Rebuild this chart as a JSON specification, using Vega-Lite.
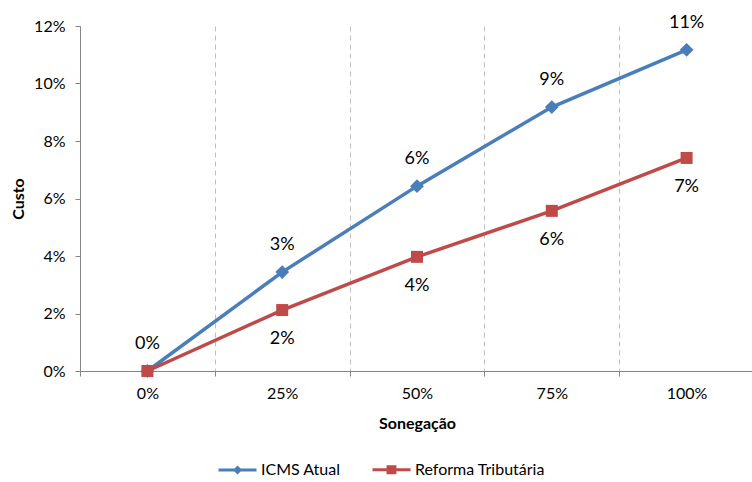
{
  "$schema": "https://vega.github.io/schema/vega-lite/v6.json",
  "autosize": "none",
  "width": 674,
  "height": 345,
  "padding": {"left": 80, "top": 26, "right": 0, "bottom": 111},
  "background": "white",
  "config": {
    "font": "Lato",
    "view": {"stroke": null},
    "axis": {"labelFont": "Lato", "titleFont": "Lato", "labelColor": "#000", "titleColor": "#000", "domainColor": "#868686", "tickColor": "#868686"}
  },
  "data": {
    "values": [
      {"s": "0%", "series": "ICMS Atual", "v": 0},
      {"s": "25%", "series": "ICMS Atual", "v": 0.0344},
      {"s": "50%", "series": "ICMS Atual", "v": 0.0643},
      {"s": "75%", "series": "ICMS Atual", "v": 0.0918},
      {"s": "100%", "series": "ICMS Atual", "v": 0.1117},
      {"s": "0%", "series": "Reforma Tributária", "v": 0},
      {"s": "25%", "series": "Reforma Tributária", "v": 0.0212},
      {"s": "50%", "series": "Reforma Tributária", "v": 0.0397},
      {"s": "75%", "series": "Reforma Tributária", "v": 0.0557},
      {"s": "100%", "series": "Reforma Tributária", "v": 0.0741}
    ]
  },
  "encoding": {
    "x": {
      "field": "s", "type": "nominal", "sort": ["0%", "25%", "50%", "75%", "100%"],
      "scale": {"paddingInner": 0, "paddingOuter": 0},
      "axis": {"title": "Sonegação", "titleFontWeight": "bold", "titleFontSize": 16, "titleY": 52, "titleBaseline": "middle",
        "labelAngle": 0, "labelFontSize": 16, "labelPadding": 9, "tickSize": 5, "tickBand": "extent",
        "grid": true, "gridDash": [5, 4], "gridColor": "#BFBFBF", "gridWidth": 1}
    },
    "y": {
      "field": "v", "type": "quantitative",
      "scale": {"domain": [0, 0.12], "nice": false},
      "axis": {"title": "Custo", "titleFontWeight": "bold", "titleFontSize": 16, "titleX": -62, "titleBaseline": "middle", "titleAngle": -90,
        "format": ".0%", "values": [0, 0.02, 0.04, 0.06, 0.08, 0.1, 0.12], "grid": false,
        "labelFontSize": 16, "labelPadding": 10, "tickSize": 5}
    },
    "color": {
      "field": "series", "type": "nominal",
      "scale": {"domain": ["ICMS Atual", "Reforma Tributária"], "range": ["#4A7EBB", "#BE4B48"]},
      "legend": {
        "title": null, "orient": "none", "direction": "horizontal", "legendX": 137, "legendY": 423,
        "padding": 0, "labelFontSize": 16, "labelFont": "Lato", "labelColor": "#000", "labelOffset": 3, "columnPadding": 25,
        "symbolSize": 1444, "symbolStrokeWidth": 3, "symbolType": "M-1,0H1",
        "encode": {
          "symbols": {
            "update": {
              "shape": {"signal": "datum.value === 'ICMS Atual' ? 'M-1,0H1M0,-0.13L0.13,0L0,0.13L-0.13,0Z' : 'M-1,0H1M-0.18,-0.16H0.18V0.16H-0.18Z'"},
              "fill": {"scale": "color", "field": "value"},
              "stroke": {"scale": "color", "field": "value"},
              "strokeWidth": {"value": 3},
              "opacity": {"value": 1}
            }
          }
        }
      }
    }
  },
  "layer": [
    {"mark": {"type": "line", "strokeWidth": 3.5}, "encoding": {"detail": {"field": "series"}}},
    {
      "transform": [{"filter": "datum.series === 'ICMS Atual'"}],
      "mark": {"type": "point", "filled": true, "opacity": 1, "shape": "diamond", "size": 190}
    },
    {
      "transform": [{"filter": "datum.series === 'Reforma Tributária'"}],
      "mark": {"type": "point", "filled": true, "opacity": 1, "shape": "square", "size": 144}
    },
    {
      "transform": [{"filter": "datum.series === 'ICMS Atual'"}],
      "mark": {"type": "text", "fontSize": 18, "dy": -27, "baseline": "middle", "color": "#000"},
      "encoding": {"text": {"field": "v", "format": ".0%"}, "color": {"value": "#000"}}
    },
    {
      "transform": [{"filter": "datum.series === 'Reforma Tributária' && datum.v > 0"}],
      "mark": {"type": "text", "fontSize": 18, "dy": 29, "baseline": "middle", "color": "#000"},
      "encoding": {"text": {"field": "v", "format": ".0%"}, "color": {"value": "#000"}}
    }
  ]
}
